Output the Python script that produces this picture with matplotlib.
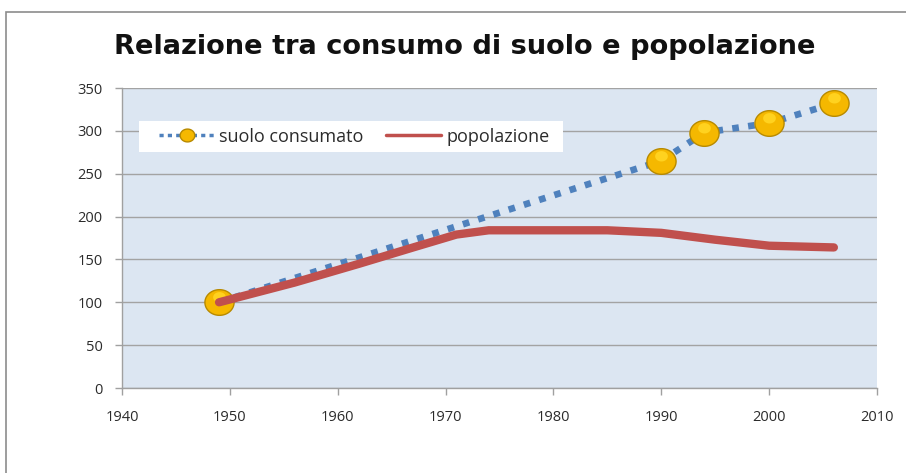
import matplotlib
matplotlib.use("Agg")
import matplotlib.pyplot as plt
from matplotlib.patches import Rectangle
from matplotlib.path import Path
import numpy as np

# Data
suolo_years = [1949, 1990, 1994, 2000, 2006]
suolo_values = [100, 265, 298, 309, 332]

pop_years = [1949, 1956, 1962, 1967, 1971, 1974, 1980, 1985, 1990, 1995, 2000, 2006]
pop_values = [100, 123, 145, 164, 179, 184, 184, 184, 181, 173, 166, 164]

title = "Relazione tra consumo di suolo e popolazione"
x_ticks = [1940, 1950, 1960, 1970, 1980, 1990, 2000, 2010]
y_ticks = [0, 50, 100, 150, 200, 250, 300, 350]

plt.rcParams['font.family'] = ['Open Sans', 'DejaVu Sans']

W, H = 906, 473
fig = plt.figure(figsize=(W/100, H/100), dpi=100)
fig.patch.set_facecolor('white')
fig.patches.append(Rectangle((6/W, -0.2), 1.2, 1.2 - 12/H,
                             transform=fig.transFigure, fill=False,
                             edgecolor='#8c8c8c', linewidth=1.2))

ax_l, ax_r, ax_t, ax_b = 122, 877, 88, 388
ax = fig.add_axes([ax_l/W, 1-ax_b/H, (ax_r-ax_l)/W, (ax_b-ax_t)/H])
ax.set_facecolor('#dce6f2')
ax.set_xlim(1940, 2010)
ax.set_ylim(0, 350)
ax.set_xticks(x_ticks)
ax.set_yticks(y_ticks)
ax.yaxis.grid(True, color='#a3a3a3', linewidth=1.0)
ax.set_axisbelow(True)
for s in ['top', 'right']:
    ax.spines[s].set_visible(False)
for s in ['left', 'bottom']:
    ax.spines[s].set_color('#a0a0a0')
    ax.spines[s].set_linewidth(1.0)
ax.tick_params(axis='both', colors='#a0a0a0', labelcolor='#2b2b2b',
               labelsize=10.5, length=5, width=1)
ax.tick_params(axis='x', pad=11)
ax.tick_params(axis='y', pad=9)

def px2ax(px, py):
    return ((px - ax_l) / (ax_r - ax_l), (ax_b - py) / (ax_b - ax_t))

# highlight marker: ellipse shifted upward (custom path)
t = np.linspace(0, 2*np.pi, 60)
hl_marker = Path(np.column_stack([0.55*np.cos(t), 0.45*np.sin(t) + 0.45]), closed=True)
ell_marker = Path(np.column_stack([1.0*np.cos(t), 0.88*np.sin(t)]), closed=True)

line_s, = ax.plot(suolo_years, suolo_values, color='#4f81bd', linewidth=4.8,
                  linestyle=(0, (1, 1.4)), dash_capstyle='butt', zorder=3,
                  marker=ell_marker, markersize=21, markerfacecolor='#f5b800',
                  markeredgecolor='#b88a00', markeredgewidth=1.0,
                  label='suolo consumato')
ax.plot(suolo_years, suolo_values, linestyle='none', marker=hl_marker,
        markersize=15, markerfacecolor='#ffd21f', markeredgewidth=0, zorder=4)
line_p, = ax.plot(pop_years, pop_values, color='#c0504d', linewidth=6,
                  solid_capstyle='round', solid_joinstyle='round', zorder=5,
                  label='popolazione')

# legend box
x0, y0 = px2ax(139, 152)
x1, y1 = px2ax(563, 121)
ax.add_patch(Rectangle((x0, y0), x1 - x0, y1 - y0, transform=ax.transAxes,
                       facecolor='white', edgecolor='none', zorder=2.5))
lx, ly = px2ax(159, 136.5)
leg = ax.legend(handles=[line_s, line_p], loc='center left',
                bbox_to_anchor=(lx, ly), borderaxespad=0, borderpad=0,
                ncol=2, frameon=False, fontsize=13,
                handlelength=3.05, columnspacing=1.2,
                handletextpad=0.3, markerscale=0.5)
for h in leg.legend_handles:
    h.set_linewidth(2.5)
    if h.get_label() == 'suolo consumato':
        h.set_linestyle((0, (1.2, 1.2)))
for txt in leg.get_texts():
    txt.set_color('#2b2b2b')

ttl = fig.text(465/W, 1-47/H, title, ha='center', va='center', fontsize=20,
               fontweight='bold', color='#111111', family='DejaVu Sans')
fig.canvas.draw()
w = ttl.get_window_extent().width
ttl.set_fontsize(20 * 706 / w)

fig.savefig('out.png', dpi=100)
